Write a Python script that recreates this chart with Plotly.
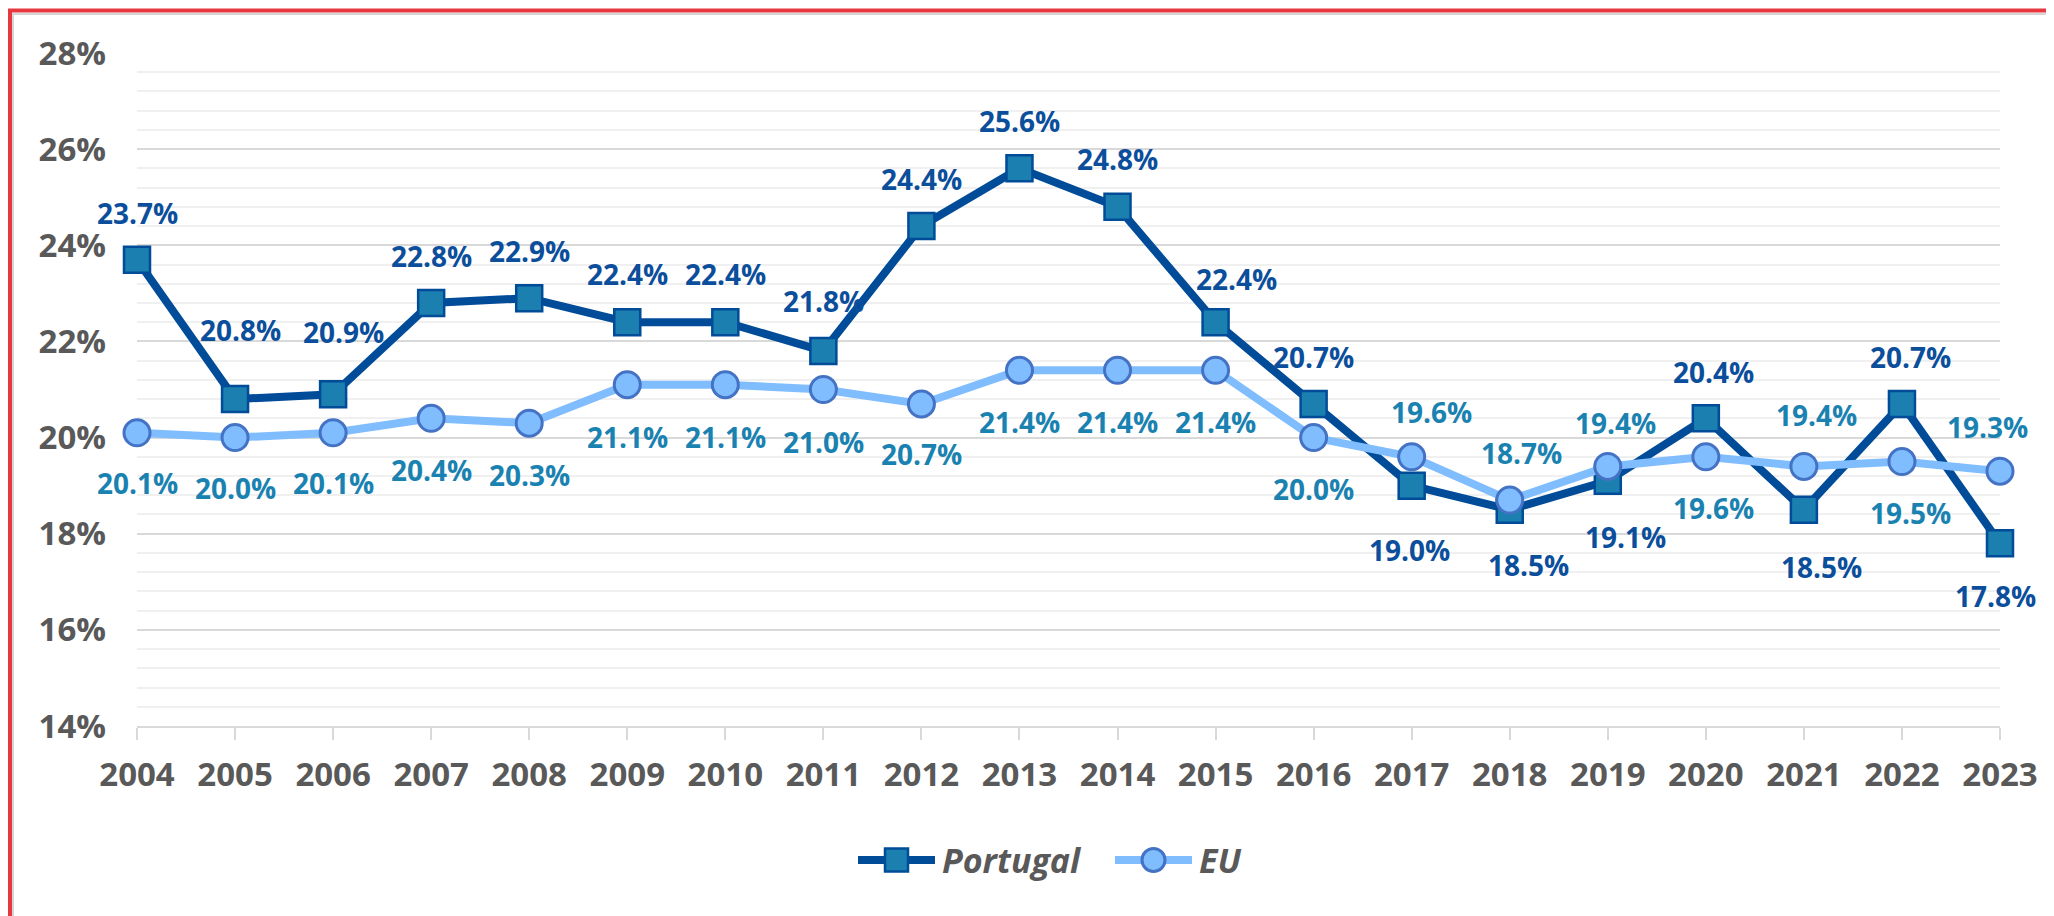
import plotly.graph_objects as go

# ---- data ----
years = list(range(2004, 2024))
portugal = [23.7, 20.8, 20.9, 22.8, 22.9, 22.4, 22.4, 21.8, 24.4, 25.6,
            24.8, 22.4, 20.7, 19.0, 18.5, 19.1, 20.4, 18.5, 20.7, 17.8]
eu = [20.1, 20.0, 20.1, 20.4, 20.3, 21.1, 21.1, 21.0, 20.7, 21.4,
      21.4, 21.4, 20.0, 19.6, 18.7, 19.4, 19.6, 19.4, 19.5, 19.3]
series_names = ["Portugal", "EU"]

# ---- label placement (style) ----
pt_yshift = [47, 69, 62, 47, 47, 48, 48, 50, 47, 47, 48, 43, 47, -64, -55, -56, 46, -57, 47, -53]
pt_xshift = [0, 5, 10, 0, 0, 0, 0, 0, 0, 0, 0, 21, 0, -2, 19, 18, 8, 18, 9, -5]
eu_yshift = [-50, -50, -50, -52, -52, -52, -52, -52, -50, -52, -52, -52, -51, 45, 47, 43, -51, 51, -51, 44]
eu_xshift = [0, 0, 0, 0, 0, 0, 0, 0, 0, 0, 0, 0, 0, 20, 12, 8, 8, 13, 9, -13]

FONT = "Open Sans"
GRAY = "#595959"
PT_LINE = "#004C99"
PT_FILL = "#1B7FB0"
PT_LABEL = "#0B4E9B"
EU_LINE = "#80BDFF"
EU_EDGE = "#4472C4"
EU_LABEL = "#1A82B0"

fig = go.Figure()
fig.add_trace(go.Scatter(
    x=years, y=portugal, name=series_names[0], mode="lines+markers",
    line=dict(color=PT_LINE, width=8),
    marker=dict(symbol="square", size=26, color=PT_FILL, line=dict(color=PT_LINE, width=2.5)),
    cliponaxis=False, showlegend=False,
))
fig.add_trace(go.Scatter(
    x=years, y=eu, name=series_names[1], mode="lines+markers",
    line=dict(color=EU_LINE, width=8),
    marker=dict(symbol="circle", size=26, color=EU_LINE, line=dict(color=EU_EDGE, width=3)),
    cliponaxis=False, showlegend=False,
))

annotations = []
for x, v, dy, dx in zip(years, portugal, pt_yshift, pt_xshift):
    annotations.append(dict(x=x, y=v, xref="x", yref="y", text=f"{v:.1f}%", showarrow=False,
                            yshift=dy, xshift=dx,
                            font=dict(family=FONT, size=28, color=PT_LABEL, weight="bold")))
for x, v, dy, dx in zip(years, eu, eu_yshift, eu_xshift):
    annotations.append(dict(x=x, y=v, xref="x", yref="y", text=f"{v:.1f}%", showarrow=False,
                            yshift=dy, xshift=dx,
                            font=dict(family=FONT, size=28, color=EU_LABEL, weight="bold")))

# page has an 8px body margin; figure coordinates = page coordinates - 8
OFF = 8
W, H = 2054 - OFF, 916 - OFF
L, T, R, B = 137 - OFF, 53 - OFF, 54, 190
pw = W - L - R
ph = H - T - B


def px_x(p):
    return (p - OFF - L) / pw


def px_y(p):
    return (H + OFF - B - p) / ph


shapes = [
    # frame
    dict(type="line", xref="paper", yref="paper", x0=px_x(12), x1=px_x(2100), y0=px_y(14), y1=px_y(14),
         line=dict(color="#d6d6d6", width=2), layer="below"),
    dict(type="line", xref="paper", yref="paper", x0=px_x(13), x1=px_x(13), y0=px_y(14), y1=px_y(950),
         line=dict(color="#d6d6d6", width=2), layer="below"),
    dict(type="line", xref="paper", yref="paper", x0=px_x(8), x1=px_x(2100), y0=px_y(10.5), y1=px_y(10.5),
         line=dict(color="#E8383F", width=4)),
    dict(type="line", xref="paper", yref="paper", x0=px_x(10), x1=px_x(10), y0=px_y(9), y1=px_y(950),
         line=dict(color="#E8383F", width=4)),
]

# ---- legend (drawn) ----
LEG_Y = 860
legend_items = [
    # name, line start, line end, text start, style
    (series_names[0], 858, 935, 940, "square"),
    (series_names[1], 1115, 1192, 1197, "circle"),
]
for name, xa, xb, xt, sym in legend_items:
    xc = (xa + xb) / 2
    half = 11.5
    if sym == "square":
        shapes.append(dict(type="line", xref="paper", yref="paper", x0=px_x(xa), x1=px_x(xb),
                           y0=px_y(LEG_Y), y1=px_y(LEG_Y), line=dict(color=PT_LINE, width=8)))
        shapes.append(dict(type="rect", xref="paper", yref="paper",
                           x0=px_x(xc - half), x1=px_x(xc + half), y0=px_y(LEG_Y + half), y1=px_y(LEG_Y - half),
                           fillcolor=PT_FILL, line=dict(color=PT_LINE, width=2.5)))
    else:
        shapes.append(dict(type="line", xref="paper", yref="paper", x0=px_x(xa), x1=px_x(xb),
                           y0=px_y(LEG_Y), y1=px_y(LEG_Y), line=dict(color=EU_LINE, width=8)))
        shapes.append(dict(type="circle", xref="paper", yref="paper",
                           x0=px_x(xc - half), x1=px_x(xc + half), y0=px_y(LEG_Y + half), y1=px_y(LEG_Y - half),
                           fillcolor=EU_LINE, line=dict(color=EU_EDGE, width=3)))
    annotations.append(dict(xref="paper", yref="paper", x=px_x(xt), y=px_y(LEG_Y), xanchor="left",
                            yanchor="middle", text=name, showarrow=False,
                            font=dict(family=FONT, size=34, color=GRAY, weight="bold", style="italic")))

fig.update_layout(
    width=W, height=H,
    margin=dict(l=L, r=R, t=T, b=B, autoexpand=False),
    paper_bgcolor="white", plot_bgcolor="white",
    font=dict(family=FONT, color=GRAY),
    showlegend=False,
    annotations=annotations,
    shapes=shapes,
)
fig.update_xaxes(
    range=[2004, 2023], tickmode="array", tickvals=years, ticktext=[str(y) for y in years],
    showgrid=False, zeroline=False,
    showline=True, linecolor="#d9d9d9", linewidth=2,
    ticks="outside", ticklen=12, tickwidth=2, tickcolor="#d9d9d9",
    tickfont=dict(family=FONT, size=33, color=GRAY, weight="bold"),
    ticklabelstandoff=6,
)
fig.update_yaxes(
    range=[14, 28], tick0=14, dtick=2, ticksuffix="%",
    showgrid=True, gridcolor="#d9d9d9", gridwidth=2,
    zeroline=False, showline=False,
    minor=dict(dtick=0.4, tick0=14, showgrid=True, gridcolor="#f0f0f0", gridwidth=2),
    tickfont=dict(family=FONT, size=33, color=GRAY, weight="bold"),
    ticklabelstandoff=30,
)

fig.write_html("out.html")
